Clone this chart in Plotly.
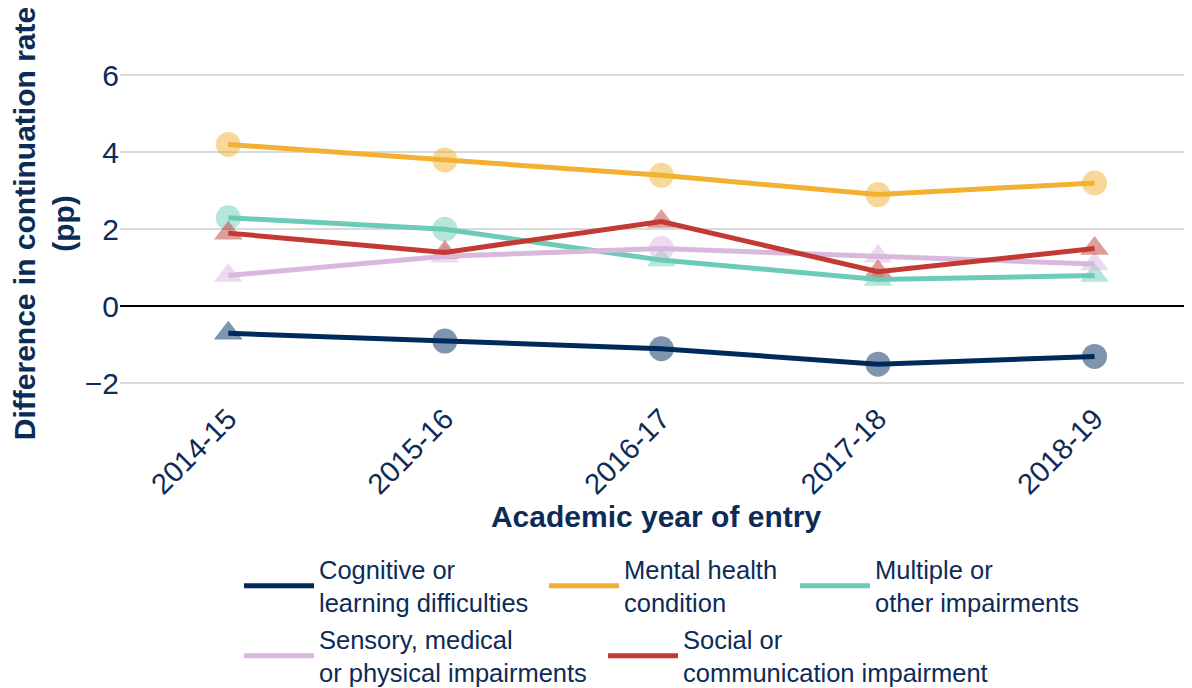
import plotly.graph_objects as go

years = ["2014-15", "2015-16", "2016-17", "2017-18", "2018-19"]

series_names = [
    "Cognitive or<br>learning difficulties",
    "Mental health<br>condition",
    "Multiple or<br>other impairments",
    "Sensory, medical<br>or physical impairments",
    "Social or<br>communication impairment",
]

cognitive = [-0.7, -0.9, -1.1, -1.5, -1.3]
mental = [4.2, 3.8, 3.4, 2.9, 3.2]
multiple = [2.3, 2.0, 1.2, 0.7, 0.8]
sensory = [0.8, 1.3, 1.5, 1.3, 1.1]
social = [1.9, 1.4, 2.2, 0.9, 1.5]

# marker shape: circle = significant, triangle = not significant
cognitive_sym = ["triangle-up", "circle", "circle", "circle", "circle"]
mental_sym = ["circle", "circle", "circle", "circle", "circle"]
multiple_sym = ["circle", "circle", "triangle-up", "triangle-up", "triangle-up"]
sensory_sym = ["triangle-up", "triangle-up", "circle", "triangle-up", "triangle-up"]
social_sym = ["triangle-up", "triangle-up", "triangle-up", "triangle-up", "triangle-up"]

colors = ["#002A5C", "#F2B132", "#6CCBB7", "#D9B8DE", "#C23A33"]

values = [cognitive, mental, multiple, sensory, social]
symbols = [cognitive_sym, mental_sym, multiple_sym, sensory_sym, social_sym]

W, H = 1184, 680
TEXT = "#0D2B57"
FONT = "Liberation Sans, Arial, sans-serif"

# one legend per entry, (left px, vertical middle px) in the figure
legend_ids = ["legend", "legend2", "legend3", "legend4", "legend5"]
legend_pos = [(231, 578), (536, 578), (787, 578), (231, 648), (595, 648)]

fig = go.Figure()

for name, vals, syms, col in zip(series_names, values, symbols, colors):
    fig.add_trace(go.Scatter(
        x=years, y=vals, mode="markers",
        marker=dict(symbol=syms, size=25, color=col, opacity=0.5, line=dict(width=0)),
        showlegend=False, hoverinfo="skip",
    ))

for name, vals, col, lg in zip(series_names, values, colors, legend_ids):
    fig.add_trace(go.Scatter(
        x=years, y=vals, mode="lines", name=name, legend=lg,
        line=dict(color=col, width=5),
    ))

legend_layout = {}
for lg, (lx, ly) in zip(legend_ids, legend_pos):
    legend_layout[lg] = dict(
        orientation="h", xref="container", yref="container",
        x=lx / W, xanchor="left", y=1 - ly / H, yanchor="middle",
        font=dict(size=25.5, color=TEXT, family=FONT), itemwidth=70,
        bgcolor="rgba(0,0,0,0)",
    )

fig.update_layout(
    width=W, height=H,
    paper_bgcolor="white", plot_bgcolor="white",
    margin=dict(l=112, r=0, t=44, b=293),
    font=dict(family=FONT, color=TEXT, size=24),
    showlegend=True,
    **legend_layout,
    xaxis=dict(
        type="category", range=[-0.5, 4.45], tickangle=-45,
        showgrid=False, zeroline=False, showline=False, automargin=False,
        tickfont=dict(size=29, color=TEXT),
        title=dict(text="<b>Academic year of entry</b>", font=dict(size=30, color=TEXT), standoff=0),
    ),
    yaxis=dict(
        range=[-2.3, 6.6], tickvals=[-2, 0, 2, 4, 6], automargin=False,
        showgrid=True, gridcolor="#D9D9D9", gridwidth=2,
        zeroline=True, zerolinecolor="#000000", zerolinewidth=2,
        showline=False,
        tickfont=dict(size=30, color=TEXT),
        title=dict(text="<b>Difference in continuation rate<br>(pp)</b>", font=dict(size=30, color=TEXT), standoff=2),
    ),
)

fig.write_html("out.html")
